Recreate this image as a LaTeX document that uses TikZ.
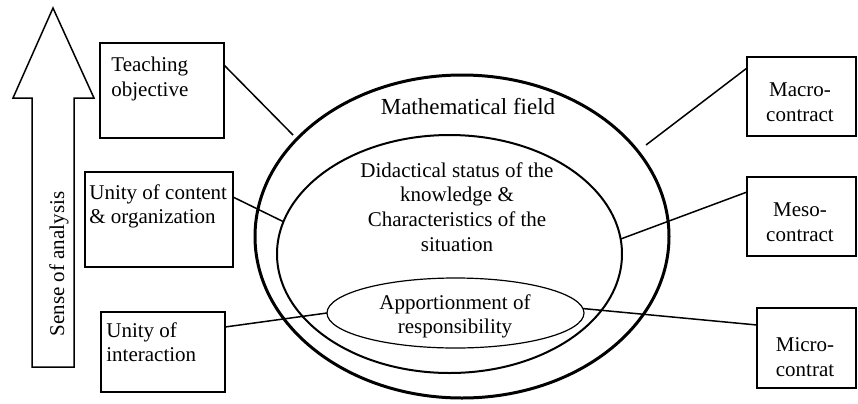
\documentclass[tikz,border=0pt]{standalone}
\usepackage{fontspec}
\setmainfont{Liberation Serif}
\usetikzlibrary{shapes.geometric,calc}
\begin{document}
\begin{tikzpicture}[x=0.5pt,y=-0.5pt,
  box/.style={draw,line width=0.8pt,inner sep=0pt,outer sep=0pt,anchor=north west},
  lbl/.style={font=\fontsize{10.5}{12.3}\selectfont,inner sep=0pt,align=left},
  clbl/.style={font=\fontsize{10.5}{12.3}\selectfont,inner sep=0pt,align=center},
  ell/.style={ellipse,draw,inner sep=0pt,outer sep=0pt},
  conn/.style={line width=0.75pt}]
\useasboundingbox (0,0) rectangle (858,403);
% arrow
\draw[line width=0.75pt,line join=miter] (32,367) -- (32,98) -- (13,98) -- (53,8) -- (94,98) -- (74,98) -- (74,367) -- cycle;
\node[lbl,rotate=90] (sense) at (59,264) {Sense of analysis};
% left boxes
\node[box,minimum width=62pt,minimum height=47.5pt] (to) at (100,43) {};
\node[lbl,anchor=north west] (tot) at (111,57) {Teaching\\objective};
\node[box,minimum width=74pt,minimum height=47.5pt] (uc) at (85,172) {};
\node[lbl,anchor=north west] (uct) at (89,184) {Unity of content\\\& organization};
\node[box,minimum width=62pt,minimum height=40pt] (ui) at (101,312) {};
\node[lbl,anchor=north west] (uit) at (106,322) {Unity of\\interaction};
% right boxes
\node[box,minimum width=54.5pt,minimum height=39.5pt] (ma) at (747,57) {};
\node[clbl] (mat) at (800,102) {Macro-\\contract};
\node[box,minimum width=54.5pt,minimum height=39.5pt] (me) at (747,177) {};
\node[clbl] (met) at (800,222) {Meso-\\contract};
\node[box,minimum width=49.5pt,minimum height=40pt] (mi) at (757,308) {};
\node[clbl] (mit) at (805,357) {Micro-\\contrat};
% ellipses
\node[ell,line width=1.5pt,minimum width=207pt,minimum height=161.5pt] (outer) at (462,236.5) {};
\node[ell,line width=1pt,minimum width=172.5pt,minimum height=119pt] (inner) at (449.5,254) {};
\node[ell,line width=0.6pt,minimum width=128.5pt,minimum height=35pt] (small) at (455.5,313) {};
\node[clbl,font=\fontsize{11.5}{13}\selectfont] (mf) at (468,107) {Mathematical field};
\node[clbl] (ds) at (457,207) {Didactical status of the\\knowledge \&\\Characteristics of the\\situation};
\node[clbl] (ap) at (455,316.5) {Apportionment of\\responsibility};
% connectors
\coordinate (toend) at (293,135);
\coordinate (maend) at (646,145);
\draw[conn] ($(to.north east)+(0,22)$) -- (toend);
\draw[conn] ($(uc.north east)+(0,25)$) -- (inner.169.5);
\draw[conn] ($(ui.north east)+(0,15)$) -- (small.west);
\draw[conn] ($(ma.north west)+(0,11)$) -- (maend);
\draw[conn] ($(me.north west)+(0,15)$) -- (inner.5);
\draw[conn] ($(mi.north west)+(0,17)$) -- (small.2);
\end{tikzpicture}
\end{document}
